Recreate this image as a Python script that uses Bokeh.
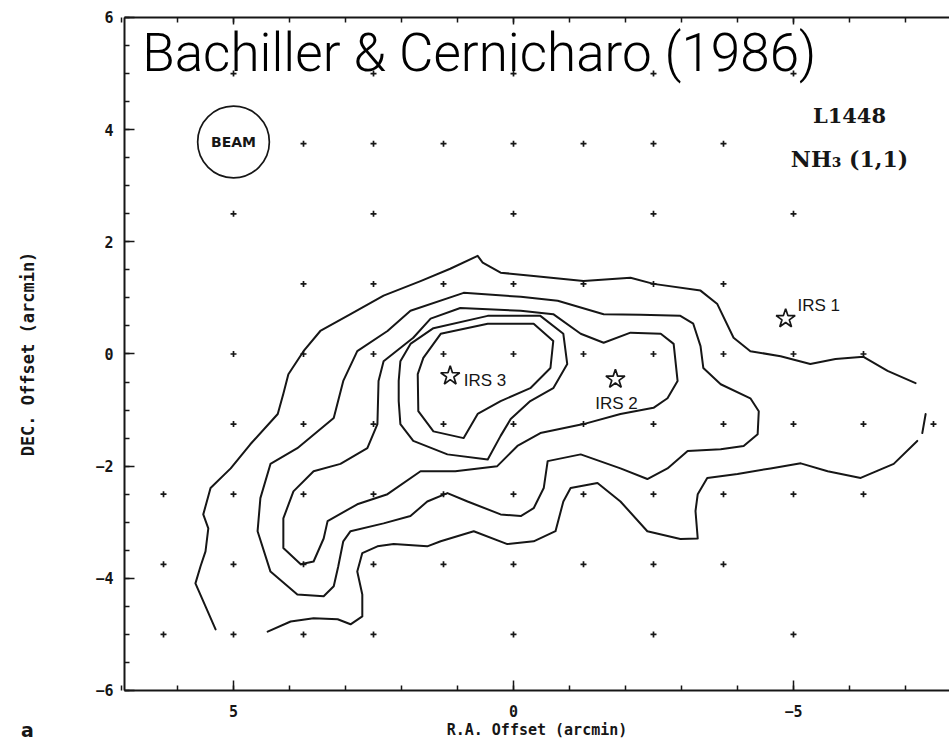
from bokeh.plotting import figure
from bokeh.models import Range1d, FixedTicker, LinearAxis, Label
from bokeh.embed import file_html
from bokeh.resources import INLINE

# ---------------- data (arcmin offsets) ----------------
# observed grid positions, row by row (DEC offset -> list of RA offsets)
grid_dec = [5.0, 3.75, 2.5, 1.25, 0.0, -1.25, -2.5, -3.75, -5.0]
grid_ra = [
    [5, 2.5, 0, -2.5, -5],
    [3.75, 2.5, 1.25, 0, -1.25, -2.5, -3.75],
    [5, 2.5, 0, -2.5, -5],
    [3.75, 2.5, 1.25, 0, -1.25, -2.5, -3.75],
    [5, 3.75, 2.5, 1.25, 0, -1.25, -2.5, -3.75, -5, -6.25],
    [5, 3.75, 2.5, 1.25, 0, -1.25, -2.5, -3.75, -5, -6.25, -7.5],
    [6.25, 5, 3.75, 2.5, 1.25, 0, -1.25, -2.5, -3.75, -5, -6.25],
    [6.25, 5, 3.75, 2.5, 1.25, 0, -1.25, -2.5, -3.75],
    [6.25, 5, 3.75, 2.5, 0, -2.5, -5],
]

# infrared sources
src_names = ["IRS 3", "IRS 2", "IRS 1"]
src_ra = [1.13, -1.82, -4.86]
src_dec = [-0.39, -0.45, 0.63]

# contour 1 (outermost, open pieces)
c1a_ra = [5.32, 5.50, 5.68, 5.59, 5.50, 5.45, 5.54, 5.41, 5.05, 4.70, 4.21, 4.11, 4.02, 3.75, 3.45,
          2.91, 2.32, 1.66, 1.13, 0.64, 0.55, 0.23, -0.36, -1.25, -2.09, -2.50, -3.34, -3.64, -3.93,
          -4.23, -4.77, -5.30, -5.75, -6.25, -6.68, -7.18]
c1a_dec = [-4.91, -4.50, -4.09, -3.79, -3.52, -3.11, -2.86, -2.39, -2.04, -1.61, -1.07, -0.71, -0.36,
           0.05, 0.41, 0.71, 1.04, 1.30, 1.52, 1.75, 1.63, 1.45, 1.39, 1.30, 1.36, 1.25, 1.13, 0.89,
           0.29, 0.05, -0.04, -0.18, -0.09, -0.05, -0.30, -0.52]
c1b_ra = [4.39, 3.98, 3.57, 3.14, 2.91, 2.70, 2.70, 2.79, 2.70, 2.43, 2.14, 1.54, 1.30, 0.71, 0.11,
          -0.36, -0.75, -0.89, -1.02, -1.50, -1.91, -2.39, -2.98, -3.29, -3.25, -3.29, -3.46, -4.00,
          -4.59, -5.13, -5.61, -6.20, -6.79, -7.21]
c1b_dec = [-4.95, -4.77, -4.71, -4.73, -4.82, -4.68, -4.29, -3.88, -3.55, -3.43, -3.39, -3.43, -3.34,
           -3.16, -3.39, -3.34, -3.16, -2.63, -2.39, -2.30, -2.63, -3.16, -3.30, -3.29, -2.80, -2.50,
           -2.21, -2.14, -2.04, -1.95, -2.09, -2.21, -1.96, -1.55]
c1c_ra = [-7.36, -7.30]
c1c_dec = [-1.07, -1.41]

# contour 2 (closed)
c2_ra = [3.86, 3.21, 3.04, 2.79, 2.25, 1.84, 0.89, -0.13, -0.79, -1.61, -2.27, -2.98, -3.21, -3.34,
         -3.39, -3.70, -4.23, -4.38, -4.36, -4.11, -3.70, -3.11, -2.75, -2.39, -1.91, -1.20, -0.61,
         -0.54, -0.36, -0.13, 0.23, 0.82, 1.18, 1.54, 1.84, 2.32, 2.91, 3.04, 3.13, 3.21, 3.39, 3.86,
         4.34, 4.57, 4.52, 4.34]
c2_dec = [-1.68, -1.14, -0.48, 0.05, 0.41, 0.77, 1.09, 1.02, 0.95, 0.71, 0.70, 0.68, 0.54, 0.14,
          -0.25, -0.54, -0.79, -1.02, -1.43, -1.64, -1.70, -1.73, -2.04, -2.23, -2.04, -1.79, -1.91,
          -2.39, -2.75, -2.89, -2.86, -2.63, -2.48, -2.63, -2.89, -3.02, -3.16, -3.34, -3.79, -4.14,
          -4.32, -4.29, -3.88, -3.16, -2.57, -1.96]

# contour 3 (closed)
c3_ra = [1.79, 1.48, 0.95, -0.13, -0.71, -1.20, -1.61, -2.09, -2.63, -2.86, -2.93, -2.75, -2.50,
         -1.91, -1.25, -0.48, -0.07, 0.29, 1.04, 1.66, 2.25, 2.79, 3.32, 3.39, 3.57, 3.80, 4.11,
         4.11, 3.93, 3.57, 3.09, 2.61, 2.43, 2.41, 2.32]
c3_dec = [0.29, 0.63, 0.82, 0.77, 0.71, 0.36, 0.20, 0.38, 0.36, 0.18, -0.48, -0.79, -0.96, -1.07,
          -1.25, -1.41, -1.64, -2.00, -2.09, -2.09, -2.50, -2.68, -2.98, -3.29, -3.70, -3.75, -3.46,
          -2.93, -2.45, -2.09, -1.96, -1.68, -1.25, -0.48, -0.13]

# contour 4 (closed)
c4_ra = [1.43, 1.84, 2.02, 2.05, 2.05, 2.02, 1.79, 1.18, 0.46, 0.23, 0.05, -0.30, -0.71, -0.96,
         -0.89, -0.48, 0.46]
c4_dec = [0.46, 0.18, -0.13, -0.48, -0.84, -1.25, -1.55, -1.79, -1.88, -1.46, -1.16, -0.84, -0.61,
          -0.18, 0.36, 0.68, 0.68]

# contour 5 (closed, innermost)
c5_ra = [1.61, 1.30, 0.46, -0.36, -0.71, -0.66, -0.30, 0.23, 0.64, 0.89, 1.43, 1.70, 1.71]
c5_dec = [-0.07, 0.36, 0.54, 0.54, 0.23, -0.25, -0.61, -0.84, -1.07, -1.50, -1.38, -1.02, -0.36]

# axes
x_major = [5, 0, -5]
x_minor = [7, 6, 5, 4, 3, 2, 1, 0, -1, -2, -3, -4, -5, -6, -7]
y_major = [6, 4, 2, 0, -2, -4, -6]
y_minor = [v / 2 for v in range(-12, 13)]
map_ra_lim = (6.946, -7.786)     # R.A. extent of the map frame (right edge cut off)
map_dec_lim = (-6.0, 6.0)
beam_center = (5.0, 3.78)
beam_radius = 0.64

INK = "#161616"
PX_PER_ARCMIN = 56.08             # scale of the page, used for tick lengths on the top edge

# the frame spans the whole page; the map box is drawn with fixed-location axes
p = figure(width=949, height=745,
           x_range=Range1d(9.161, -7.786), y_range=Range1d(-6.981, 6.303),
           output_backend="svg", toolbar_location=None,
           x_axis_location=None, y_axis_location=None,
           min_border_left=0, min_border_right=0, min_border_top=0, min_border_bottom=0)
p.outline_line_color = None
p.grid.visible = False

ra_bounds = (min(map_ra_lim), max(map_ra_lim))


def base_axis(major, minor, loc, bounds):
    ax = LinearAxis(fixed_location=loc, bounds=bounds)
    ax.ticker = FixedTicker(ticks=major, minor_ticks=minor)
    ax.axis_line_color = INK
    ax.axis_line_width = 2
    ax.major_tick_line_color = INK
    ax.minor_tick_line_color = INK
    ax.major_tick_line_width = 1.5
    ax.minor_tick_line_width = 1.5
    ax.major_tick_in = 10
    ax.major_tick_out = 0
    ax.minor_tick_in = 5
    ax.minor_tick_out = 0
    ax.major_label_text_font = "DejaVu Sans Mono"
    ax.major_label_text_font_style = "bold"
    ax.major_label_text_font_size = "15px"
    ax.major_label_text_color = INK
    ax.major_label_overrides = {v: str(v).replace("-", "\u2212") for v in major}
    ax.axis_label_text_font = "DejaVu Sans Mono"
    ax.axis_label_text_font_style = "bold"
    ax.axis_label_text_color = INK
    return ax


xax = base_axis(x_major, x_minor, map_dec_lim[0], ra_bounds)
xax.axis_label = "R.A. Offset (arcmin)"
xax.major_label_standoff = 15
xax.axis_label_standoff = 0
xax.axis_label_text_font_size = "15px"
p.add_layout(xax, "below")

yax = base_axis(y_major, y_minor, map_ra_lim[0], map_dec_lim)
yax.axis_label = "DEC. Offset (arcmin)"
yax.major_label_standoff = 11
yax.axis_label_standoff = 54
yax.axis_label_text_font_size = "17px"
p.add_layout(yax, "left")

# top edge of the map box with inward ticks
top_y = map_dec_lim[1]
p.line(x=list(map_ra_lim), y=[top_y, top_y], line_color=INK, line_width=2)
minor_len = 5 / PX_PER_ARCMIN
major_len = 7 / PX_PER_ARCMIN
p.segment(x0=x_minor, y0=[top_y] * len(x_minor), x1=x_minor,
          y1=[top_y - minor_len] * len(x_minor), line_color=INK, line_width=1.5)
p.segment(x0=x_major, y0=[top_y] * len(x_major), x1=x_major,
          y1=[top_y - major_len] * len(x_major), line_color=INK, line_width=1.5)

# grid crosses
gx, gy = [], []
for d, row in zip(grid_dec, grid_ra):
    for r in row:
        gx.append(r)
        gy.append(d)
p.scatter(gx, gy, marker="cross", size=6, line_color=INK, line_width=1.7)

# contours
open_pieces = [(c1a_ra, c1a_dec), (c1b_ra, c1b_dec), (c1c_ra, c1c_dec)]
closed_pieces = [(c2_ra, c2_dec), (c3_ra, c3_dec), (c4_ra, c4_dec), (c5_ra, c5_dec)]
for xs, ys in open_pieces:
    p.line(xs, ys, line_color=INK, line_width=2, line_join="round", line_cap="round")
for xs, ys in closed_pieces:
    p.line(xs + xs[:1], ys + ys[:1], line_color=INK, line_width=2, line_join="round",
           line_cap="round")

# sources
p.scatter(src_ra, src_dec, marker="star", size=20, fill_color=None, line_color=INK, line_width=1.7)
src_label_pos = [(0.89, -0.48, "left"), (-1.84, -0.89, "center"), (-5.07, 0.86, "left")]
for name, (lx, ly, al) in zip(src_names, src_label_pos):
    p.add_layout(Label(x=lx, y=ly, text=name, text_align=al, text_baseline="middle",
                       text_font="Liberation Sans", text_font_size="17px", text_color=INK))

# beam
p.circle(x=[beam_center[0]], y=[beam_center[1]], radius=beam_radius,
         fill_color=None, line_color=INK, line_width=1.7)
p.add_layout(Label(x=beam_center[0], y=beam_center[1], text="BEAM", text_align="center",
                   text_baseline="middle", text_font="DejaVu Sans", text_font_style="bold",
                   text_font_size="14px", text_color=INK))

# source / line annotations
p.add_layout(Label(x=-6.0, y=4.25, text="L1448", text_align="center", text_baseline="middle",
                   text_font="DejaVu Serif", text_font_style="bold", text_font_size="21px",
                   text_color=INK))
p.add_layout(Label(x=-6.0, y=3.47, text="NH\u2083 (1,1)", text_align="center",
                   text_baseline="middle", text_font="DejaVu Serif", text_font_style="bold",
                   text_font_size="22px", text_color=INK))

# reference title
p.add_layout(Label(x=6.63, y=5.36, text="Bachiller & Cernicharo (1986)", text_align="left",
                   text_baseline="middle", text_font="Roboto Light", text_font_size="53px",
                   text_color="black"))

# panel letter
p.add_layout(Label(x=8.68, y=-6.71, text="a", text_align="center", text_baseline="middle",
                   text_font="DejaVu Sans", text_font_style="bold", text_font_size="19px",
                   text_color=INK))

open("out.html", "w").write(file_html(p, INLINE))
